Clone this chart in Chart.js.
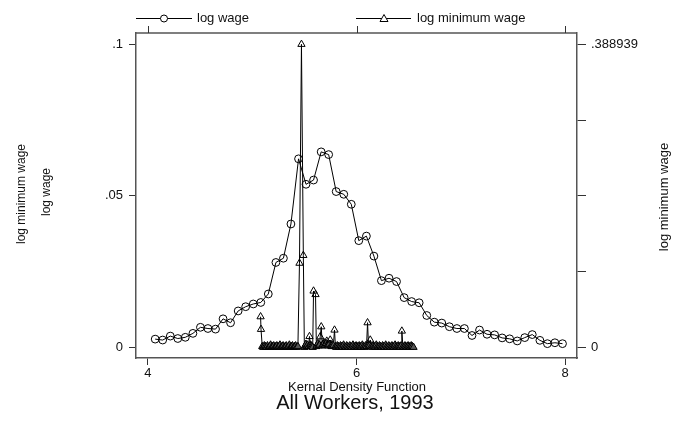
<!DOCTYPE html>
<html>
<head>
<meta charset="utf-8">
<script src="https://cdn.jsdelivr.net/npm/chart.js@4.4.1/dist/chart.umd.min.js"></script>
<style>
    html, body { margin: 0; padding: 0; background: #fff; }
    canvas { display: block; }
</style>
</head>
<body>
<canvas id="chart" width="679" height="424"></canvas>
<script>
// log wage 커널 밀도 (왼쪽 축)
const wageX = [
    4.069, 4.141, 4.214, 4.286, 4.358, 4.431, 4.503, 4.575, 4.648, 4.720,
    4.792, 4.865, 4.937, 5.010, 5.082, 5.154, 5.227, 5.299, 5.371, 5.444,
    5.516, 5.588, 5.661, 5.733, 5.805, 5.878, 5.950, 6.022, 6.095, 6.167,
    6.239, 6.312, 6.384, 6.457, 6.529, 6.601, 6.674, 6.746, 6.818, 6.891,
    6.963, 7.035, 7.108, 7.180, 7.252, 7.325, 7.397, 7.469, 7.542, 7.614,
    7.686, 7.759, 7.831, 7.903, 7.976
];
const wageDensity = [
    0.0027, 0.0024, 0.0037, 0.0029, 0.0033, 0.0046, 0.0066, 0.0062, 0.0060, 0.0094,
    0.0081, 0.0120, 0.0134, 0.0143, 0.0148, 0.0176, 0.0280, 0.0294, 0.0407, 0.0622,
    0.0538, 0.0552, 0.0645, 0.0636, 0.0514, 0.0505, 0.0472, 0.0352, 0.0367, 0.0301,
    0.0220, 0.0228, 0.0217, 0.0164, 0.0151, 0.0147, 0.0105, 0.0083, 0.0080, 0.0068,
    0.0062, 0.0062, 0.0039, 0.0057, 0.0043, 0.0041, 0.0031, 0.0028, 0.0021, 0.0032,
    0.0042, 0.0023, 0.0012, 0.0015, 0.0012
];

// log minimum wage 커널 밀도 (오른쪽 축)
const minWageX = [
    5.080, 5.084, 5.096, 5.106, 5.116, 5.126, 5.136, 5.146, 5.156, 5.166,
    5.176, 5.186, 5.196, 5.206, 5.216, 5.226, 5.236, 5.246, 5.256, 5.266,
    5.276, 5.286, 5.296, 5.306, 5.316, 5.326, 5.336, 5.346, 5.356, 5.366,
    5.376, 5.386, 5.396, 5.406, 5.416, 5.426, 5.438, 5.453, 5.472, 5.490,
    5.500, 5.508, 5.515, 5.523, 5.530, 5.540, 5.549, 5.557, 5.565, 5.572,
    5.580, 5.588, 5.607, 5.615, 5.622, 5.630, 5.638, 5.645, 5.652, 5.662,
    5.672, 5.680, 5.688, 5.694, 5.700, 5.708, 5.715, 5.722, 5.730, 5.738,
    5.748, 5.755, 5.762, 5.770, 5.778, 5.789, 5.798, 5.806, 5.816, 5.826,
    5.836, 5.846, 5.856, 5.866, 5.876, 5.886, 5.896, 5.906, 5.916, 5.926,
    5.936, 5.946, 5.956, 5.966, 5.976, 5.986, 5.996, 6.006, 6.016, 6.026,
    6.036, 6.046, 6.056, 6.066, 6.076, 6.086, 6.096, 6.106, 6.115, 6.124,
    6.132, 6.140, 6.150, 6.160, 6.170, 6.180, 6.190, 6.200, 6.210, 6.220,
    6.230, 6.240, 6.250, 6.260, 6.270, 6.280, 6.290, 6.300, 6.310, 6.320,
    6.330, 6.340, 6.350, 6.360, 6.370, 6.380, 6.390, 6.400, 6.410, 6.420,
    6.428, 6.435, 6.445, 6.455, 6.465, 6.475, 6.485, 6.495, 6.505, 6.515,
    6.525, 6.535, 6.547
];
const minWageDensity = [
    0.0393, 0.0231, 0.001, 0.000, 0.002, 0.001, 0.000, 0.002, 0.000, 0.001,
    0.003, 0.000, 0.001, 0.002, 0.000, 0.001, 0.002, 0.000, 0.001, 0.003,
    0.000, 0.001, 0.002, 0.000, 0.001, 0.002, 0.000, 0.001, 0.003, 0.000,
    0.001, 0.002, 0.000, 0.001, 0.002, 0.000, 0.001, 0.108, 0.388939, 0.118,
    0.000, 0.002, 0.004, 0.001, 0.003, 0.001, 0.0139, 0.003, 0.002, 0.001,
    0.000, 0.0723, 0.0678, 0.001, 0.003, 0.005, 0.002, 0.003, 0.0136, 0.0264,
    0.002, 0.004, 0.006, 0.002, 0.003, 0.005, 0.008, 0.003, 0.002, 0.004,
    0.0094, 0.002, 0.001, 0.003, 0.002, 0.0222, 0.001, 0.000, 0.002, 0.001,
    0.000, 0.002, 0.001, 0.000, 0.003, 0.001, 0.000, 0.002, 0.001, 0.000,
    0.002, 0.001, 0.000, 0.003, 0.001, 0.000, 0.002, 0.001, 0.000, 0.002,
    0.001, 0.000, 0.003, 0.001, 0.000, 0.002, 0.001, 0.0316, 0.003, 0.002,
    0.0094, 0.001, 0.000, 0.002, 0.001, 0.000, 0.003, 0.001, 0.000, 0.002,
    0.001, 0.000, 0.002, 0.001, 0.000, 0.003, 0.001, 0.000, 0.002, 0.001,
    0.000, 0.002, 0.001, 0.000, 0.003, 0.001, 0.000, 0.002, 0.001, 0.000,
    0.002, 0.0209, 0.001, 0.000, 0.002, 0.001, 0.000, 0.002, 0.001, 0.000,
    0.002, 0.001, 0.000
];

// 눈금
const xTicks = [4, 6, 8];
const leftTicks = [0, 0.05, 0.1];
const leftLabels = ['0', '.05', '.1'];
const rightTicks = [0, 0.0972, 0.1945, 0.2917, 0.388939];
const rightLabels = ['0', '', '', '', '.388939'];

const FONT = "'Liberation Sans', Arial, sans-serif";
const frameColor = '#555';
const inkColor = '#111';

// 범례, 축 제목, 위쪽 테두리 그리기
const decorPlugin = {
    id: 'decor',
    afterDraw(chart) {
        const ctx = chart.ctx;
        const area = chart.chartArea;
        const xs = chart.scales.x;
        ctx.save();

        // 위쪽 테두리와 눈금
        ctx.strokeStyle = frameColor;
        ctx.lineWidth = 1.5;
        ctx.beginPath();
        ctx.moveTo(area.left, area.top);
        ctx.lineTo(area.right, area.top);
        ctx.stroke();
        ctx.strokeStyle = '#333';
        ctx.lineWidth = 1;
        xTicks.forEach(v => {
            const px = Math.round(xs.getPixelForValue(v)) + 0.5;
            ctx.beginPath();
            ctx.moveTo(px, area.top);
            ctx.lineTo(px, area.top - 7);
            ctx.stroke();
        });

        // 범례
        ctx.strokeStyle = '#000';
        ctx.fillStyle = inkColor;
        ctx.font = '13px ' + FONT;
        ctx.textBaseline = 'middle';
        ctx.textAlign = 'left';
        const ly = 18.5;
        ctx.beginPath();
        ctx.moveTo(136, ly);
        ctx.lineTo(192, ly);
        ctx.stroke();
        ctx.beginPath();
        ctx.arc(164, ly, 3.5, 0, Math.PI * 2);
        ctx.fillStyle = '#fff';
        ctx.fill();
        ctx.stroke();
        ctx.fillStyle = inkColor;
        ctx.fillText('log wage', 197, ly);

        ctx.beginPath();
        ctx.moveTo(356, ly);
        ctx.lineTo(411, ly);
        ctx.stroke();
        ctx.beginPath();
        ctx.moveTo(384, ly - 4);
        ctx.lineTo(388, ly + 3);
        ctx.lineTo(380, ly + 3);
        ctx.closePath();
        ctx.fillStyle = '#fff';
        ctx.fill();
        ctx.stroke();
        ctx.fillStyle = inkColor;
        ctx.fillText('log minimum wage', 417, ly);

        // 아래쪽 제목
        ctx.textAlign = 'center';
        ctx.font = '13px ' + FONT;
        ctx.fillText('Kernal Density Function', 357, 387);
        ctx.font = '20px ' + FONT;
        ctx.fillText('All Workers, 1993', 355, 403);

        // 세로 축 제목
        const vText = (text, x, y, size) => {
            ctx.save();
            ctx.translate(x, y);
            ctx.rotate(-Math.PI / 2);
            ctx.font = size + 'px ' + FONT;
            ctx.textAlign = 'center';
            ctx.textBaseline = 'middle';
            ctx.fillText(text, 0, 0);
            ctx.restore();
        };
        vText('log minimum wage', 22, 194, 12);
        vText('log wage', 47, 192, 12);
        vText('log minimum wage', 664, 197, 13);

        ctx.restore();
    }
};

const ctx = document.getElementById('chart').getContext('2d');
const chart = new Chart(ctx, {
    type: 'line',
    data: {
        datasets: [
            {
                label: 'log wage',
                data: wageX.map((x, i) => ({ x: x, y: wageDensity[i] })),
                yAxisID: 'y',
                borderColor: '#000',
                borderWidth: 1,
                pointStyle: 'circle',
                pointRadius: 3.9,
                pointBorderWidth: 1,
                pointBorderColor: '#000',
                pointBackgroundColor: 'rgba(0,0,0,0)'
            },
            {
                label: 'log minimum wage',
                data: minWageX.map((x, i) => ({ x: x, y: minWageDensity[i] })),
                yAxisID: 'y2',
                borderColor: '#000',
                borderWidth: 1,
                pointStyle: 'triangle',
                pointRadius: 4.2,
                pointBorderWidth: 1,
                pointBorderColor: '#000',
                // 바닥에 겹친 삼각형은 어둡게 보이도록
                pointBackgroundColor: c => (c.raw && c.raw.y < 0.006) ? '#555' : 'rgba(0,0,0,0)'
            }
        ]
    },
    options: {
        responsive: false,
        animation: false,
        devicePixelRatio: 1,
        layout: { padding: { top: 33, left: 0, right: 0, bottom: 0 } },
        plugins: {
            legend: { display: false },
            tooltip: { enabled: false },
            title: { display: false }
        },
        elements: { line: { tension: 0 } },
        scales: {
            x: {
                type: 'linear',
                min: 3.885,
                max: 8.115,
                afterBuildTicks: s => { s.ticks = xTicks.map(v => ({ value: v })); },
                afterFit: s => { s.height = 66; },
                ticks: {
                    color: inkColor,
                    font: { family: FONT, size: 13 },
                    padding: 1,
                    maxRotation: 0,
                    autoSkip: false,
                    callback: v => String(v)
                },
                grid: { drawOnChartArea: false, tickLength: 7, color: '#333' },
                border: { color: frameColor, width: 1.5 }
            },
            y: {
                position: 'left',
                min: -0.00353,
                max: 0.10373,
                afterBuildTicks: s => { s.ticks = leftTicks.map(v => ({ value: v })); },
                afterFit: s => { s.width = 136; },
                ticks: {
                    color: inkColor,
                    font: { family: FONT, size: 13 },
                    padding: 6,
                    autoSkip: false,
                    callback: (v, i) => leftLabels[i]
                },
                grid: { drawOnChartArea: false, tickLength: 7, color: '#333' },
                border: { color: frameColor, width: 1.5 }
            },
            y2: {
                position: 'right',
                min: -0.01373,
                max: 0.40345,
                afterBuildTicks: s => { s.ticks = rightTicks.map(v => ({ value: v })); },
                afterFit: s => { s.width = 102; },
                ticks: {
                    color: inkColor,
                    font: { family: FONT, size: 13 },
                    padding: 5,
                    autoSkip: false,
                    callback: (v, i) => rightLabels[i]
                },
                grid: { drawOnChartArea: false, tickLength: 9, color: '#333' },
                border: { color: frameColor, width: 1.5 }
            }
        }
    },
    plugins: [decorPlugin]
});
</script>
</body>
</html>
